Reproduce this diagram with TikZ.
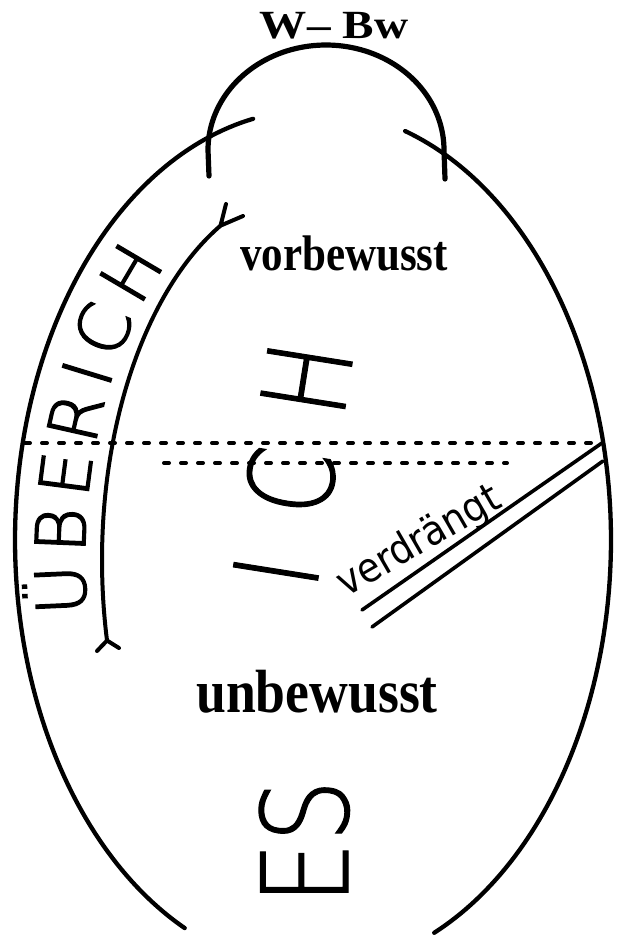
\documentclass[tikz,border=0pt]{standalone}
\usepackage{fontspec}
\usepackage{graphicx}
\usetikzlibrary{decorations.text}
\newfontfamily\thinf[FakeBold=1]{DejaVu Sans ExtraLight}
\newfontfamily\thinb[FakeBold=2]{DejaVu Sans ExtraLight}
\newfontfamily\serf{Liberation Serif}
\newfontfamily\sansf{DejaVu Sans Condensed}
\tikzset{
  eggline/.style={line width=4.3pt, line cap=round},
  arcline/.style={line width=5.2pt, line cap=round},
  innerline/.style={line width=4pt, line cap=round, line join=round},
  dotline/.style={line width=4pt, line cap=round, dash pattern=on 5pt off 12pt},
  repline/.style={line width=3.6pt, line cap=round},
  lbl/.style={inner sep=0pt, anchor=base},
}
\begin{document}
\begin{tikzpicture}[x=1pt,y=-1pt]
\useasboundingbox (0,0) rectangle (620,936);
% egg outline
\draw[eggline] plot[domain=101.6:244.5, samples=120] ({313+298*cos(\x)},{540-430*sin(\x)});
\draw[eggline] plot[domain=72:-66, samples=120] ({313+298*cos(\x)},{540-430*sin(\x)});
% W-Bw arc
\draw[arcline] (209,176) -- plot[domain=180:0, samples=80] ({326+118*cos(\x)},{150-105*sin(\x)}) -- (445,179);
% inner arc (Ueber-Ich)
\coordinate (ut) at ({313+211*cos(116)},{560-372*sin(116)});
\coordinate (ub) at ({313+211*cos(192.5)},{560-372*sin(192.5)});
\coordinate (ut1) at (226,204);
\coordinate (ut2) at (243,216);
\coordinate (ub1) at (97,651);
\coordinate (ub2) at (119,648);
\draw[innerline] plot[domain=116:192.5, samples=100] ({313+211*cos(\x)},{560-372*sin(\x)});
\draw[innerline] (ut1) -- (ut) -- (ut2);
\draw[innerline] (ub1) -- (ub) -- (ub2);
% UEBERICH text along arc
\path[decorate, decoration={text along path, text align={fit to path},
  text={|\thinb\fontsize{69pt}{69pt}\selectfont|ÜBERICH}}]
  plot[domain=188:130, samples=100] ({313+228*cos(\x)},{560-387*sin(\x)});
% dotted lines
\coordinate (d1a) at (25,443);
\coordinate (d1b) at (602,443);
\coordinate (d2a) at (164,463);
\coordinate (d2b) at (507,463);
\draw[dotline] (d1a) -- (d1b);
\draw[dotline] (d2a) -- (d2b);
% repression double line
\coordinate (r1a) at (362,610);
\coordinate (r1b) at (602,443);
\coordinate (r2a) at (372,627);
\coordinate (r2b) at (603,461);
\draw[repline] (r1a) -- (r1b);
\draw[repline] (r2a) -- (r2b);
% labels
\node[lbl] (wbw) at (334,39) {\scalebox{1.18}[1]{\serf\bfseries\fontsize{40pt}{40pt}\selectfont W– Bw}};
\node[lbl] (vb) at (344,270) {\scalebox{0.86}[1]{\serf\bfseries\fontsize{50pt}{50pt}\selectfont vorbewusst}};
\node[lbl] (unb) at (317,712) {\scalebox{0.88}[1]{\serf\bfseries\fontsize{61pt}{61pt}\selectfont unbewusst}};
\node[lbl, rotate=81] (ich) at (335,471) {\scalebox{0.8}[1]{\thinf\fontsize{117pt}{117pt}\selectfont I\hspace{56pt}C\hspace{45pt}H}};
\node[lbl, rotate=90] (es) at (348,842) {\scalebox{0.82}[1]{\thinf\fontsize{120pt}{120pt}\selectfont ES}};
\node[lbl, rotate=30] (vd) at (425,552) {\sansf\fontsize{41pt}{41pt}\selectfont verdrängt};
\end{tikzpicture}
\end{document}
